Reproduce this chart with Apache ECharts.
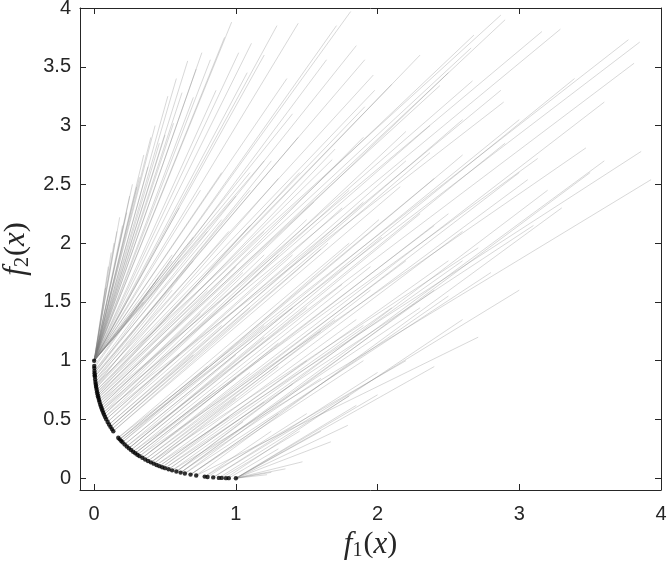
<!DOCTYPE html>
<html>
<head>
<meta charset="utf-8">
<script src="https://cdn.jsdelivr.net/npm/echarts@6/dist/echarts.min.js"></script>
<style>html,body{margin:0;padding:0;background:#fff}#c{width:667px;height:561px}</style>
</head>
<body>
<div id="c"></div>
<script>
// Pareto front points (black dots)
const paretoF1 = [0.000,0.0005,0.001,0.002,0.003,0.004,0.005,0.007,0.009,0.011,0.013,0.015,0.018,0.021,0.024,0.027,0.030,0.034,0.038,0.043,0.048,0.053,0.058,0.064,0.070,0.077,0.085,0.095,0.105,0.115,0.125,0.135,0.170,0.180,0.190,0.200,0.215,0.230,0.245,0.260,0.275,0.290,0.305,0.320,0.340,0.360,0.380,0.400,0.420,0.440,0.460,0.480,0.500,0.525,0.550,0.580,0.610,0.640,0.680,0.720,0.780,0.800,0.840,0.880,0.900,0.930,0.950,1.000];
const paretoF2 = [1.000,0.955,0.937,0.912,0.893,0.877,0.864,0.840,0.819,0.801,0.785,0.770,0.750,0.731,0.714,0.698,0.684,0.665,0.648,0.628,0.610,0.593,0.576,0.558,0.541,0.522,0.502,0.479,0.457,0.437,0.418,0.400,0.345,0.331,0.318,0.306,0.288,0.271,0.255,0.240,0.226,0.213,0.200,0.188,0.174,0.160,0.147,0.135,0.124,0.113,0.103,0.094,0.086,0.076,0.067,0.057,0.048,0.040,0.031,0.023,0.014,0.011,0.007,0.003,0.003,0.001,0.001,0.000];

// Segments fanning out of the corner (0,1): end points
const topFanStart = [0, 1];
const topFanEnds = [[0.08,1.62],[0.10,1.80],[0.12,1.92],[0.14,2.00],[0.16,2.10],[0.18,2.22],[0.20,2.15],[0.23,2.26],[0.25,2.40],[0.27,2.50],[0.30,2.48],[0.32,2.56],[0.35,2.75],[0.38,2.65],[0.40,2.90],[0.43,3.00],[0.46,2.85],[0.50,2.92],[0.52,3.25],[0.56,3.02],[0.58,3.40],[0.62,3.28],[0.66,3.55],[0.70,3.24],[0.72,3.48],[0.76,3.62],[0.82,3.56],[0.86,3.30],[0.92,3.75],[0.97,3.88],[1.02,3.62],[1.08,3.45],[1.11,3.70],[1.20,3.60],[1.29,3.85],[1.36,3.40],[1.44,3.87],[0.60,2.30],[0.75,2.45],[0.90,2.60],[1.00,2.40],[0.55,1.90],[0.80,2.10],[1.20,2.70],[0.45,1.70],[0.70,2.05],[1.40,3.10],[0.35,1.50],[0.55,1.85],[1.10,2.60]];

// Segments fanning out of the corner (1,0): end points
const rightFanStart = [1, 0];
const rightFanEnds = [[1.47,0.14],[1.25,0.05],[1.67,0.31],[1.79,0.45],[2.00,0.71],[1.60,0.40],[2.40,0.95],[1.22,0.03],[1.35,0.08],[1.85,0.62]];

// Segments from points along the front: [f1 start, f2 start, f1 end, f2 end]
const frontRays = [
[0.0005,0.955,1.81,3.97],[0.001,0.937,1.71,3.85],[0.002,0.912,1.64,3.56],[0.003,0.893,1.85,3.68],[0.004,0.877,1.91,3.56],
[0.005,0.864,1.44,2.90],[0.007,0.840,1.97,3.43],[0.009,0.819,1.98,3.30],[0.011,0.801,2.87,3.94],[0.013,0.785,1.91,3.16],
[0.015,0.770,1.30,2.55],[0.018,0.750,1.68,2.71],[0.021,0.731,2.68,3.77],[0.024,0.714,2.66,3.66],[0.027,0.698,1.20,2.10],
[0.030,0.684,2.44,3.34],[0.034,0.665,1.55,2.35],[0.038,0.648,3.16,3.80],[0.043,0.628,2.67,3.38],[0.048,0.610,1.05,1.75],
[0.053,0.593,3.29,3.82],[0.058,0.576,2.37,3.00],[0.064,0.558,2.89,3.20],[0.070,0.541,1.80,2.45],[0.077,0.522,2.87,3.30],
[0.085,0.502,1.40,1.90],[0.095,0.479,2.20,2.70],[0.105,0.457,0.90,1.30],[0.115,0.437,2.37,2.77],[0.125,0.418,1.60,1.95],
[0.135,0.400,2.16,2.48],[0.170,0.345,3.77,3.73],[0.180,0.331,3.85,3.71],[0.190,0.318,1.20,1.30],[0.200,0.306,2.01,2.20],
[0.215,0.288,3.39,3.40],[0.230,0.271,3.81,3.53],[0.245,0.255,2.03,2.05],[0.260,0.240,1.50,1.45],[0.275,0.226,3.13,2.72],
[0.290,0.213,2.40,2.15],[0.305,0.200,1.00,0.85],[0.320,0.188,3.47,2.81],[0.340,0.174,2.20,1.85],[0.360,0.160,1.70,1.35],
[0.380,0.147,3.06,2.54],[0.400,0.135,2.71,1.96],[0.420,0.124,1.30,0.95],[0.440,0.113,3.86,2.78],[0.460,0.103,2.50,1.85],
[0.480,0.094,1.90,1.30],[0.500,0.086,3.10,2.15],[0.525,0.076,1.20,0.65],[0.550,0.067,3.93,2.54],[0.580,0.057,2.30,1.45],
[0.610,0.048,1.60,0.85],[0.640,0.040,2.80,1.75],[0.680,0.031,1.90,1.00],[0.720,0.023,2.71,1.20],[0.780,0.014,2.20,1.00],
[0.800,0.011,1.50,0.55],[0.840,0.007,3.00,1.60],[0.880,0.003,1.80,0.70],
[0.002,0.912,0.90,2.20],[0.005,0.864,1.10,2.45],[0.009,0.819,0.70,1.85],[0.015,0.770,2.10,3.35],[0.021,0.731,1.45,2.60],
[0.030,0.684,0.80,1.60],[0.038,0.648,1.90,2.90],[0.048,0.610,2.50,3.45],[0.058,0.576,1.20,1.90],[0.070,0.541,2.20,2.95],
[0.085,0.502,1.75,2.30],[0.105,0.457,2.60,3.05],[0.125,0.418,1.10,1.45],[0.170,0.345,1.80,2.00],[0.190,0.318,2.60,2.75],
[0.215,0.288,1.40,1.45],[0.245,0.255,2.90,2.85],[0.275,0.226,1.75,1.65],[0.305,0.200,2.50,2.25],[0.340,0.174,1.10,0.90],
[0.380,0.147,1.95,1.60],[0.420,0.124,2.60,2.10],[0.460,0.103,1.50,1.00],[0.500,0.086,2.10,1.45],[0.550,0.067,1.40,0.80],
[0.610,0.048,2.40,1.60],[0.680,0.031,1.30,0.55],[0.720,0.023,3.30,2.30],[0.640,0.040,3.50,2.60],[0.580,0.057,3.20,2.45],
[0.360,0.160,3.00,2.60],[0.320,0.188,1.30,1.15],[0.260,0.240,2.30,2.25],[0.230,0.271,1.00,1.05],[0.135,0.400,1.65,2.00],
[0.095,0.479,0.60,1.05],[0.064,0.558,1.50,2.20],[0.043,0.628,1.00,1.80],[0.024,0.714,1.10,2.15],[0.013,0.785,0.55,1.60],
[0.007,0.840,1.25,2.70],[0.003,0.893,0.60,1.85],
[0.011,0.801,0.95,2.10],[0.018,0.750,2.30,3.60],[0.027,0.698,1.70,2.80],[0.034,0.665,2.90,3.90],[0.053,0.593,0.75,1.40],
[0.077,0.522,1.30,1.90],[0.115,0.437,0.70,1.05],[0.115,0.437,1.90,2.35],[0.180,0.331,0.80,0.95],[0.180,0.331,2.40,2.55],
[0.200,0.306,3.00,3.05],[0.245,0.255,1.20,1.20],[0.290,0.213,0.85,0.75],[0.290,0.213,1.95,1.80],[0.340,0.174,3.60,3.20],
[0.400,0.135,1.00,0.68],[0.400,0.135,1.60,1.25],[0.440,0.113,1.85,1.35],[0.480,0.094,0.95,0.52],[0.525,0.076,2.60,1.85],
[0.580,0.057,1.05,0.48],[0.610,0.048,3.60,2.70],[0.680,0.031,2.50,1.55],[0.780,0.014,1.25,0.40],[0.840,0.007,2.00,0.90],
[0.900,0.003,1.45,0.40],[0.930,0.001,2.60,1.35],[0.950,0.001,1.30,0.25]
];

const xTicks = [0, 1, 2, 3, 4];
const yTicks = [0, 0.5, 1, 1.5, 2, 2.5, 3, 3.5, 4];

const segData = [];
topFanEnds.forEach(e => segData.push({coords: [topFanStart, e]}));
rightFanEnds.forEach(e => segData.push({coords: [rightFanStart, e]}));
frontRays.forEach(r => segData.push({coords: [[r[0], r[1]], [r[2], r[3]]]}));
const frontData = paretoF1.map((x, i) => [x, paretoF2[i]]);

const axisColor = '#262626';
const labelFont = {color: axisColor, fontFamily: 'Liberation Sans', fontSize: 20};
const nameRich = {
  i: {fontFamily: 'Liberation Serif', fontStyle: 'italic', fontSize: 31, lineHeight: 32, color: axisColor},
  n: {fontFamily: 'Liberation Serif', fontSize: 30, lineHeight: 32, color: axisColor},
  s: {fontFamily: 'Liberation Serif', fontSize: 20, lineHeight: 13, verticalAlign: 'bottom', color: axisColor, padding: [0, 1, 0, 0]}
};
function mkX(pos, showLabel) {
  return {
    type: 'value', min: -0.1, max: 4, position: pos,
    axisLine: {show: true, onZero: false, lineStyle: {color: axisColor, width: 1}},
    axisTick: {show: true, inside: true, length: 6, customValues: xTicks, lineStyle: {color: axisColor}},
    axisLabel: {show: showLabel, customValues: xTicks, margin: 14, ...labelFont},
    splitLine: {show: false}
  };
}
function mkY(pos, showLabel) {
  return {
    type: 'value', min: -0.1, max: 4, position: pos,
    axisLine: {show: true, onZero: false, lineStyle: {color: axisColor, width: 1}},
    axisTick: {show: true, inside: true, length: 6, customValues: yTicks, lineStyle: {color: axisColor}},
    axisLabel: {show: showLabel, customValues: yTicks, margin: 9, ...labelFont},
    splitLine: {show: false}
  };
}
const xa = mkX('bottom', true);
xa.name = '{i|f}{s|1}{n|(}{i|x}{n|)}';
xa.nameLocation = 'middle';
xa.nameGap = 31;
xa.nameTextStyle = {rich: nameRich};
const ya = mkY('left', true);
ya.name = '{i|f}{s|2}{n|(}{i|x}{n|)}';
ya.nameLocation = 'middle';
ya.nameGap = 46;
ya.nameTextStyle = {rich: nameRich};

const chart = echarts.init(document.getElementById('c'), null, {renderer: 'canvas'});
chart.setOption({
  animation: false,
  backgroundColor: '#fff',
  grid: {left: 80, right: 6, top: 8, bottom: 71, containLabel: false, outerBoundsMode: 'none'},
  xAxis: [xa, mkX('top', false)],
  yAxis: [ya, mkY('right', false)],
  series: [
    {
      type: 'lines', coordinateSystem: 'cartesian2d', xAxisIndex: 0, yAxisIndex: 0,
      polyline: false, silent: true,
      lineStyle: {color: '#7a7a7a', width: 0.7, opacity: 0.42},
      data: segData, z: 2
    },
    {
      type: 'scatter', xAxisIndex: 0, yAxisIndex: 0, silent: true,
      symbol: 'circle', symbolSize: 4.4,
      itemStyle: {color: '#000'},
      data: frontData, z: 5
    }
  ]
});
</script>
</body>
</html>
